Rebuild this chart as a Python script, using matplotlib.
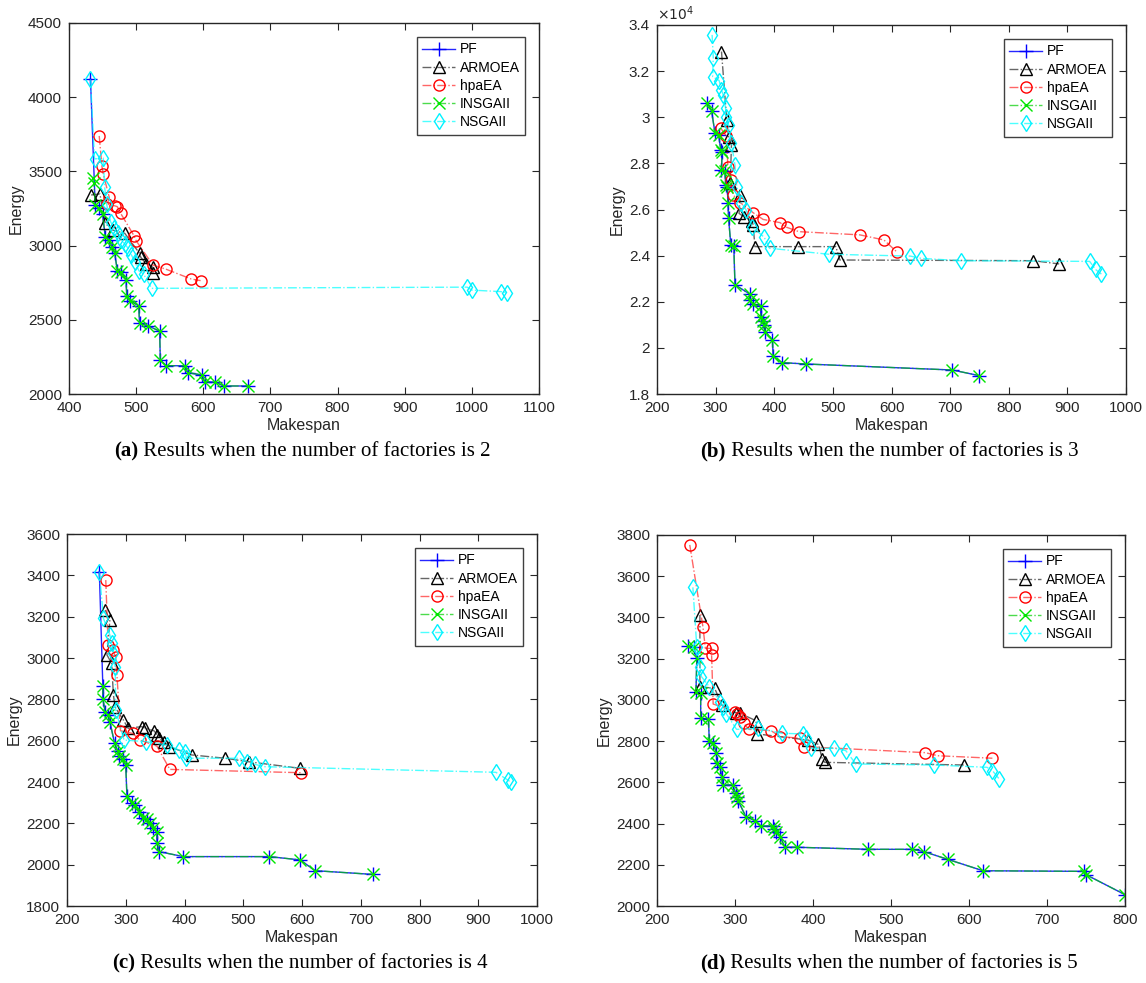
import matplotlib
matplotlib.use("Agg")
import matplotlib.pyplot as plt
from matplotlib.ticker import FuncFormatter, MultipleLocator

plt.rcParams['font.family'] = ['Liberation Sans', 'DejaVu Sans']

# ---------------- Panel (a): 2 factories ----------------
a_pf_x = [432, 439, 445, 450, 454, 460, 464, 468, 472, 478, 485, 486, 491, 504, 505, 517, 535, 536, 545, 573, 577, 598, 602, 618, 631, 666]
a_pf_y = [4120, 3273, 3250, 3213, 3060, 3038, 2993, 2952, 2831, 2824, 2768, 2660, 2629, 2593, 2476, 2460, 2424, 2229, 2191, 2190, 2144, 2128, 2083, 2079, 2054, 2054]
a_arm_x = [433, 446, 454, 465, 483, 505, 507, 515, 525, 525]
a_arm_y = [3341, 3348, 3150, 3105, 3083, 2948, 2921, 2876, 2854, 2813]
a_hpa_x = [445, 449, 451, 460, 457, 469, 472, 477, 497, 500, 525, 545, 582, 596]
a_hpa_y = [3739, 3536, 3482, 3325, 3280, 3267, 3262, 3217, 3065, 3033, 2869, 2840, 2775, 2764]
a_ins_x = [435, 437, 439, 445, 450, 454, 460, 464, 468, 472, 478, 485, 486, 491, 504, 505, 517, 535, 536, 545, 573, 577, 598, 602, 618, 631, 666]
a_ins_y = [3455, 3420, 3273, 3250, 3213, 3060, 3038, 2993, 2952, 2831, 2824, 2768, 2660, 2629, 2593, 2476, 2460, 2424, 2229, 2191, 2190, 2144, 2128, 2083, 2079, 2054, 2054]
a_nsg_x = [432, 438, 451, 453, 456, 462, 467, 473, 478, 483, 488, 493, 498, 504, 511, 523, 993, 1000, 1043, 1052]
a_nsg_y = [4120, 3584, 3590, 3397, 3280, 3160, 3120, 3083, 3038, 3011, 2982, 2937, 2892, 2831, 2809, 2712, 2720, 2700, 2690, 2683]

# ---------------- Panel (b): 3 factories ----------------
b_pf_x = [286, 293, 299, 305, 309, 311, 310, 316, 317, 320, 321, 322, 326, 331, 333, 358, 358, 363, 377, 377, 381, 383, 385, 397, 398, 413, 455, 704, 749]
b_pf_y = [30600, 30290, 29300, 29230, 28580, 28510, 27710, 27680, 27060, 26960, 26270, 25620, 24460, 24430, 22730, 22340, 22080, 21900, 21820, 21350, 21180, 20990, 20700, 20340, 19650, 19360, 19300, 19040, 18800]
b_arm_x = [310, 319, 322, 327, 325, 342, 340, 348, 362, 364, 367, 441, 505, 512, 842, 886]
b_arm_y = [32850, 29880, 29160, 28800, 27140, 26630, 25830, 25690, 25520, 25330, 24390, 24390, 24390, 23810, 23780, 23640]
b_hpa_x = [309, 318, 321, 326, 330, 342, 364, 381, 410, 421, 442, 546, 587, 610]
b_hpa_y = [29520, 29190, 27860, 27280, 26630, 26300, 25860, 25570, 25430, 25230, 25040, 24900, 24680, 24140]
b_ins_x = [286, 293, 299, 305, 309, 311, 310, 316, 317, 320, 321, 322, 326, 331, 333, 358, 358, 363, 377, 377, 381, 383, 385, 397, 398, 413, 455, 704, 749]
b_ins_y = [30600, 30290, 29300, 29230, 28580, 28510, 27710, 27680, 27060, 26960, 26270, 25620, 24460, 24430, 22730, 22340, 22080, 21900, 21820, 21350, 21180, 20990, 20700, 20340, 19650, 19360, 19300, 19040, 18800]
b_nsg_x = [294, 296, 295, 306, 310, 313, 317, 318, 322, 327, 333, 336, 344, 352, 362, 383, 392, 493, 632, 651, 719, 938, 948, 958]
b_nsg_y = [33570, 32580, 31760, 31590, 31180, 30970, 30390, 30030, 29670, 28870, 27930, 26990, 26270, 25980, 25260, 24790, 24320, 24060, 23980, 23880, 23780, 23750, 23400, 23200]

# ---------------- Panel (c): 4 factories ----------------
c_pf_x = [255, 261, 261, 265, 270, 273, 281, 286, 289, 295, 300, 302, 310, 316, 323, 329, 337, 341, 346, 353, 353, 357, 398, 544, 597, 622, 720]
c_pf_y = [3418, 2865, 2802, 2740, 2724, 2692, 2587, 2552, 2526, 2510, 2482, 2332, 2297, 2289, 2256, 2224, 2219, 2200, 2176, 2160, 2106, 2063, 2039, 2039, 2023, 1971, 1953]
c_arm_x = [265, 273, 268, 276, 279, 282, 296, 304, 327, 333, 348, 354, 357, 365, 374, 412, 469, 509, 597]
c_arm_y = [3232, 3184, 3015, 2974, 2821, 2761, 2700, 2660, 2668, 2660, 2648, 2627, 2611, 2595, 2571, 2531, 2515, 2498, 2466]
c_hpa_x = [266, 270, 278, 283, 285, 291, 312, 324, 353, 375, 598]
c_hpa_y = [3377, 3063, 3039, 3003, 2918, 2648, 2635, 2603, 2574, 2461, 2445]
c_ins_x = [261, 261, 265, 270, 273, 281, 286, 289, 295, 300, 302, 310, 316, 323, 329, 337, 341, 346, 353, 353, 357, 398, 544, 597, 622, 720]
c_ins_y = [2865, 2802, 2740, 2724, 2692, 2587, 2552, 2526, 2510, 2482, 2332, 2297, 2289, 2256, 2224, 2219, 2200, 2176, 2160, 2106, 2063, 2039, 2039, 2023, 1971, 1953]
c_nsg_x = [255, 262, 273, 276, 279, 282, 283, 297, 335, 371, 390, 401, 403, 493, 506, 520, 537, 930, 950, 955]
c_nsg_y = [3418, 3192, 3111, 3071, 3023, 2958, 2748, 2603, 2595, 2579, 2555, 2547, 2515, 2515, 2498, 2485, 2474, 2447, 2410, 2400]

# ---------------- Panel (d): 5 factories ----------------
d_pf_x = [240, 247, 251, 250, 256, 256, 266, 267, 272, 276, 277, 281, 283, 284, 297, 301, 303, 304, 314, 326, 333, 349, 350, 353, 358, 364, 380, 471, 527, 542, 573, 618, 748, 750, 800]
d_pf_y = [3262, 3258, 3202, 3040, 3032, 2911, 2906, 2802, 2792, 2744, 2692, 2673, 2628, 2587, 2587, 2547, 2530, 2511, 2433, 2414, 2388, 2388, 2372, 2361, 2336, 2285, 2285, 2275, 2275, 2264, 2226, 2171, 2168, 2152, 2055]
d_arm_x = [255, 255, 274, 283, 301, 306, 327, 328, 394, 407, 412, 415, 594]
d_arm_y = [3412, 3064, 3056, 2975, 2938, 2935, 2899, 2835, 2805, 2784, 2712, 2697, 2684]
d_hpa_x = [242, 259, 262, 270, 270, 272, 300, 303, 306, 311, 318, 346, 358, 383, 389, 544, 560, 630]
d_hpa_y = [3752, 3352, 3250, 3250, 3218, 2980, 2943, 2932, 2919, 2886, 2857, 2851, 2822, 2814, 2773, 2744, 2729, 2717]
d_ins_x = [240, 247, 251, 250, 256, 256, 266, 267, 272, 276, 277, 281, 283, 284, 297, 301, 303, 304, 314, 326, 333, 349, 350, 353, 358, 364, 380, 471, 527, 542, 573, 618, 748, 750, 800]
d_ins_y = [3262, 3258, 3202, 3040, 3032, 2911, 2906, 2802, 2792, 2744, 2692, 2673, 2628, 2587, 2587, 2547, 2530, 2511, 2433, 2414, 2388, 2388, 2372, 2361, 2336, 2285, 2285, 2275, 2275, 2264, 2226, 2171, 2168, 2152, 2055]
d_nsg_x = [246, 251, 255, 257, 267, 281, 285, 289, 302, 330, 360, 387, 391, 398, 427, 442, 455, 555, 623, 630, 639]
d_nsg_y = [3546, 3258, 3161, 3113, 3064, 2991, 2967, 2932, 2857, 2862, 2838, 2835, 2814, 2765, 2765, 2754, 2689, 2684, 2673, 2657, 2615]

series_names = ['PF', 'ARMOEA', 'hpaEA', 'INSGAII', 'NSGAII']
caption_bold = ['(a)', '(b)', '(c)', '(d)']
caption_text = [' Results when the number of factories is 2',
                ' Results when the number of factories is 3',
                ' Results when the number of factories is 4',
                ' Results when the number of factories is 5']

panels = [
    dict(data=[(a_pf_x, a_pf_y), (a_arm_x, a_arm_y), (a_hpa_x, a_hpa_y), (a_ins_x, a_ins_y), (a_nsg_x, a_nsg_y)],
         xlim=(400, 1100), ylim=(2000, 4500), ystep=500, rect=[69, 23, 470, 371], sci=False),
    dict(data=[(b_pf_x, b_pf_y), (b_arm_x, b_arm_y), (b_hpa_x, b_hpa_y), (b_ins_x, b_ins_y), (b_nsg_x, b_nsg_y)],
         xlim=(200, 1000), ylim=(18000, 34000), ystep=2000, rect=[657, 25, 469, 369], sci=True),
    dict(data=[(c_pf_x, c_pf_y), (c_arm_x, c_arm_y), (c_hpa_x, c_hpa_y), (c_ins_x, c_ins_y), (c_nsg_x, c_nsg_y)],
         xlim=(200, 1000), ylim=(1800, 3600), ystep=200, rect=[67, 534, 470, 372], sci=False),
    dict(data=[(d_pf_x, d_pf_y), (d_arm_x, d_arm_y), (d_hpa_x, d_hpa_y), (d_ins_x, d_ins_y), (d_nsg_x, d_nsg_y)],
         xlim=(200, 800), ylim=(2000, 3800), ystep=200, rect=[657, 535, 468, 371], sci=False),
]

styles = [
    dict(color=(0, 0, 1, 0.85), ls='-', marker='+', mec=(0, 0, 1), ms=10),
    dict(color=(0, 0, 0, 0.6), ls='-.', marker='^', mec=(0, 0, 0), ms=9),
    dict(color=(1, 0, 0, 0.6), ls='-.', marker='o', mec=(1, 0, 0), ms=8),
    dict(color=(0, 0.8, 0, 0.7), ls='-.', marker='x', mec=(0, 0.9, 0), ms=8),
    dict(color=(0, 1, 1, 0.7), ls='-.', marker='d', mec=(0, 0.95, 1), ms=8.5),
]

W, H = 1146, 983
fig = plt.figure(figsize=(W / 100, H / 100), dpi=100)

for i, p in enumerate(panels):
    l, t, w, h = p['rect']
    ax = fig.add_axes([l / W, 1 - (t + h) / H, w / W, h / H])
    for (xs, ys), st, name in zip(p['data'], styles, series_names):
        ax.plot(xs, ys, color=st['color'], linestyle=st['ls'], linewidth=1.0,
                marker=st['marker'], markeredgecolor=st['mec'], markerfacecolor='none',
                markersize=st['ms'], markeredgewidth=1.0, label=name)
    ax.set_xlim(*p['xlim'])
    ax.set_ylim(*p['ylim'])
    ax.xaxis.set_major_locator(MultipleLocator(100))
    ax.yaxis.set_major_locator(MultipleLocator(p['ystep']))
    if p['sci']:
        ax.yaxis.set_major_formatter(FuncFormatter(lambda v, pos: f"{v / 1e4:g}"))
        ax.text(0.0, 1.005, r'$\times 10^4$', transform=ax.transAxes, fontsize=10,
                ha='left', va='bottom', color='#262626')
    ax.tick_params(direction='in', top=True, right=True, length=5, width=0.8,
                   labelsize=11, colors='#262626', pad=5)
    for sp in ax.spines.values():
        sp.set_linewidth(1.0)
        sp.set_color('#262626')
    ax.set_xlabel('Makespan', fontsize=11.5, color='#262626', labelpad=2)
    ax.set_ylabel('Energy', fontsize=11.5, color='#262626', labelpad=3)
    leg = ax.legend(loc='upper right', fontsize=10, frameon=True, fancybox=False,
                    edgecolor='#404040', framealpha=1, borderaxespad=1.0,
                    handlelength=2.4, labelspacing=0.3, handletextpad=0.3, borderpad=0.4)
    leg.get_frame().set_linewidth(1.0)

fig.canvas.draw()
renderer = fig.canvas.get_renderer()
for i, p in enumerate(panels):
    l, t, w, h = p['rect']
    cy = 1 - (t + h + 57) / H
    tb = fig.text(0, cy, caption_bold[i], ha='left', va='center', fontsize=15,
                  family='Liberation Serif', weight='bold')
    tr = fig.text(0, cy, caption_text[i], ha='left', va='center', fontsize=15,
                  family='Liberation Serif')
    wb = tb.get_window_extent(renderer).width
    wr = tr.get_window_extent(renderer).width
    start = (l + w / 2 - 2) - (wb + wr) / 2
    tb.set_x(start / W)
    tr.set_x((start + wb) / W)

fig.savefig('out.png', dpi=100)
